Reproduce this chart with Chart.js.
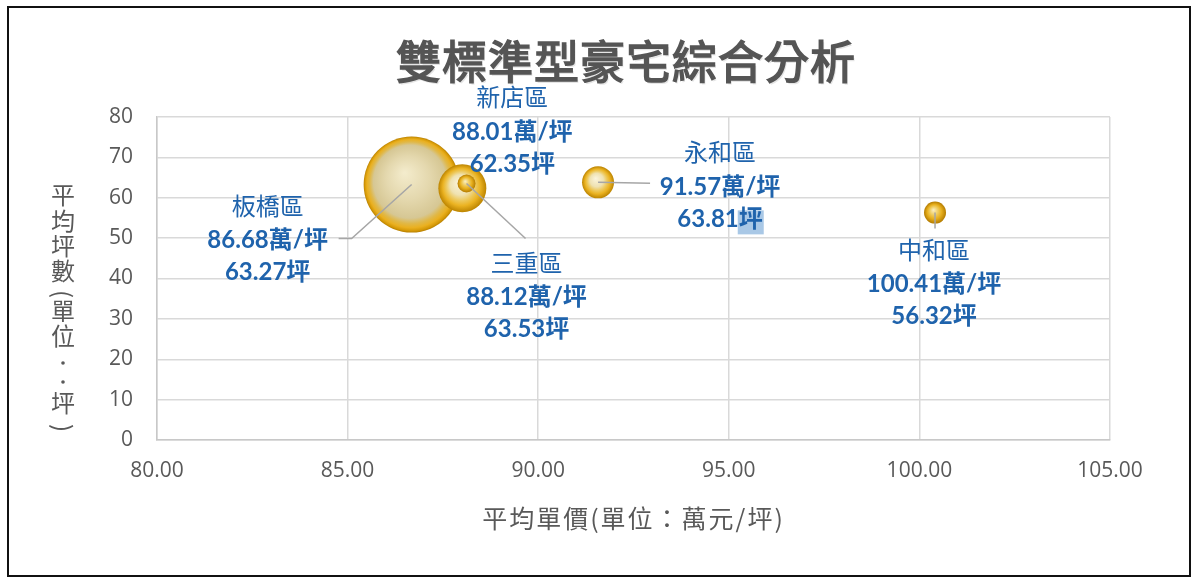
<!DOCTYPE html>
<html><head><meta charset="utf-8">
<script src="https://cdn.jsdelivr.net/npm/chart.js@4"></script>
<style>html,body{margin:0;padding:0;background:#fff}#wrap{width:1200px;height:583px;position:relative}</style>
</head><body><div id="wrap"><canvas id="c"></canvas></div>
<script>
// ---- data ----
const chartTitle = '雙標準型豪宅綜合分析';
const xAxisTitle = '平均單價(單位：萬元/坪)';
const districts = ['板橋區', '新店區', '三重區', '永和區', '中和區'];
const avgPrice  = [86.68, 88.01, 88.12, 91.57, 100.41];   // 萬/坪
const avgArea   = [63.27, 62.35, 63.53, 63.81, 56.32];    // 坪
const bubbleSize = [48, 24, 9, 16, 11];                   // bubble radius value
const xTicks = { min: 80, max: 105, step: 5 };
const yTicks = { min: 0, max: 80, step: 10 };

// ---- label layout (offsets from bubble centre, px) ----
const labelLayout = [
  { dx: -144, dy: 56,  leader: [[-60, 54], [-73, 54]] },
  { dx: 50,   dy: -56, leader: null },
  { dx: 60,   dy: 114, leader: [[59, 55]] },
  { dx: 122,  dy: 5,   leader: [[52, 1]], highlightLast: true },
  { dx: -1,   dy: 72,  leader: [[0, 16]] }
];

const BLUE = '#1F63AC';
const GRAY = '#595959';

function goldFill(c) {
  const chart = c.chart;
  if (!chart.chartArea || !c.raw) return '#E0A810';
  const x = chart.scales.x.getPixelForValue(c.raw.x);
  const y = chart.scales.y.getPixelForValue(c.raw.y);
  const r = c.raw.r;
  const g = chart.ctx.createRadialGradient(x - r * 0.15, y - r * 0.25, 0, x, y, r);
  if (r > 30) {
    g.addColorStop(0, '#F4ECCD');
    g.addColorStop(0.45, '#E4D8AE');
    g.addColorStop(0.76, '#D6C794');
    g.addColorStop(0.85, '#E0B848');
    g.addColorStop(0.92, '#EAB020');
    g.addColorStop(0.97, '#D69A08');
    g.addColorStop(1, '#B88000');
  } else if (r > 12) {
    g.addColorStop(0, '#FBF4DC');
    g.addColorStop(0.42, '#EFE2B2');
    g.addColorStop(0.62, '#EDC85A');
    g.addColorStop(0.78, '#EBB322');
    g.addColorStop(1, '#BC8400');
  } else {
    g.addColorStop(0, '#FBEFC4');
    g.addColorStop(0.35, '#F0CF66');
    g.addColorStop(0.65, '#E8B01E');
    g.addColorStop(1, '#B47C00');
  }
  return g;
}

const overlay = {
  id: 'overlay',
  beforeDraw(chart) {
    const ctx = chart.ctx;
    ctx.save();
    ctx.fillStyle = '#fff';
    ctx.fillRect(0, 0, chart.width, chart.height);
    ctx.strokeStyle = '#111';
    ctx.lineWidth = 2;
    ctx.strokeRect(8, 7, 1182, 569);
    ctx.restore();
  },
  afterDatasetsDraw(chart) {
    const ctx = chart.ctx;
    const xs = chart.scales.x, ys = chart.scales.y;
    ctx.save();
    // leader lines
    ctx.strokeStyle = '#A6A6A6';
    ctx.lineWidth = 1.5;
    districts.forEach((d, i) => {
      const L = labelLayout[i];
      if (!L.leader) return;
      const bx = xs.getPixelForValue(avgPrice[i]);
      const by = ys.getPixelForValue(avgArea[i]);
      ctx.beginPath();
      ctx.moveTo(bx, by);
      L.leader.forEach(p => ctx.lineTo(bx + p[0], by + p[1]));
      ctx.stroke();
    });
    // labels
    ctx.textAlign = 'center';
    ctx.textBaseline = 'middle';
    districts.forEach((d, i) => {
      const L = labelLayout[i];
      const cx = xs.getPixelForValue(avgPrice[i]) + L.dx;
      const cy = ys.getPixelForValue(avgArea[i]) + L.dy;
      const line2 = avgPrice[i].toFixed(2) + '萬/坪';
      const line3 = avgArea[i].toFixed(2) + '坪';
      ctx.fillStyle = BLUE;
      ctx.font = '24px "Noto Sans CJK TC"';
      ctx.fillText(d, cx, cy - 35);
      ctx.font = 'bold 24px Lato, "Noto Sans CJK TC"';
      if (L.highlightLast) {
        const w = ctx.measureText(line3).width;
        const right = cx + w / 2;
        ctx.fillStyle = '#A9C8E6';
        ctx.fillRect(right - 25, cy + 32 - 9, 26, 24);
        ctx.fillStyle = BLUE;
      }
      ctx.fillText(line2, cx, cy);
      ctx.fillText(line3, cx, cy + 32);
    });
    ctx.restore();
  },
  afterDraw(chart) {
    const ctx = chart.ctx;
    const ca = chart.chartArea;
    ctx.save();
    // title
    ctx.textAlign = 'center';
    ctx.textBaseline = 'middle';
    ctx.font = '45px "Noto Sans CJK TC"';
    ctx.letterSpacing = '1px';
    ctx.fillStyle = 'rgba(0,0,0,0.10)';
    ctx.fillText(chartTitle, 627.5, 63.5);
    ctx.fillStyle = '#555555';
    ctx.strokeStyle = '#555555';
    ctx.lineWidth = 1.6;
    ctx.fillText(chartTitle, 626, 62);
    ctx.strokeText(chartTitle, 626, 62);
    ctx.letterSpacing = '0px';
    // x axis title
    ctx.font = '25px "Noto Sans CJK TC"';
    ctx.letterSpacing = '2px';
    ctx.fillStyle = GRAY;
    ctx.fillText(xAxisTitle, (ca.left + ca.right) / 2, 518);
    ctx.letterSpacing = '0px';
    // y axis title (vertical, stacked)
    ctx.font = '24px "Noto Sans CJK TC"';
    const yx = 63;
    const chars = [['平', 195], ['均', 221], ['坪', 246], ['數', 271], ['單', 311], ['位', 336], ['坪', 403]];
    chars.forEach(([t, y]) => ctx.fillText(t, yx, y));
    // rotated parentheses
    [['(', 294], [')', 428]].forEach(([t, y]) => {
      ctx.save();
      ctx.translate(yx, y);
      ctx.rotate(Math.PI / 2);
      ctx.fillText(t, 0, 0);
      ctx.restore();
    });
    // vertical colon
    ctx.beginPath(); ctx.arc(yx, 363, 1.8, 0, Math.PI * 2); ctx.fill();
    ctx.beginPath(); ctx.arc(yx, 382, 1.8, 0, Math.PI * 2); ctx.fill();
    ctx.restore();
  }
};

const tickFont = { family: '"Open Sans"', size: 21 };

new Chart(document.getElementById('c'), {
  type: 'bubble',
  data: {
    datasets: [{
      label: '豪宅',
      data: districts.map((d, i) => ({ x: avgPrice[i], y: avgArea[i], r: bubbleSize[i] })),
      backgroundColor: goldFill,
      borderWidth: 0,
      hoverBorderWidth: 0,
      hoverRadius: 0,
      clip: false
    }]
  },
  options: {
    responsive: true,
    maintainAspectRatio: false,
    animation: false,
    events: [],
    layout: { padding: { left: 87, right: 90, top: 117, bottom: 83 } },
    plugins: { legend: { display: false }, tooltip: { enabled: false }, title: { display: false } },
    scales: {
      x: {
        type: 'linear', min: xTicks.min, max: xTicks.max,
        ticks: { stepSize: xTicks.step, callback: v => Number(v).toFixed(2), font: tickFont, color: GRAY, padding: 18, maxRotation: 0, autoSkip: false },
        grid: { color: '#D9D9D9', lineWidth: 1.5, drawTicks: false },
        border: { color: '#C8C8C8', width: 1.5 },
        afterFit(s) { s.height = 60; }
      },
      y: {
        type: 'linear', min: yTicks.min, max: yTicks.max,
        ticks: { stepSize: yTicks.step, font: tickFont, color: GRAY, padding: 24 },
        grid: { color: '#D9D9D9', lineWidth: 1.5, drawTicks: false },
        border: { color: '#C8C8C8', width: 1.5 },
        afterFit(s) { s.width = 70; }
      }
    }
  },
  plugins: [overlay]
});
</script>
</body></html>
